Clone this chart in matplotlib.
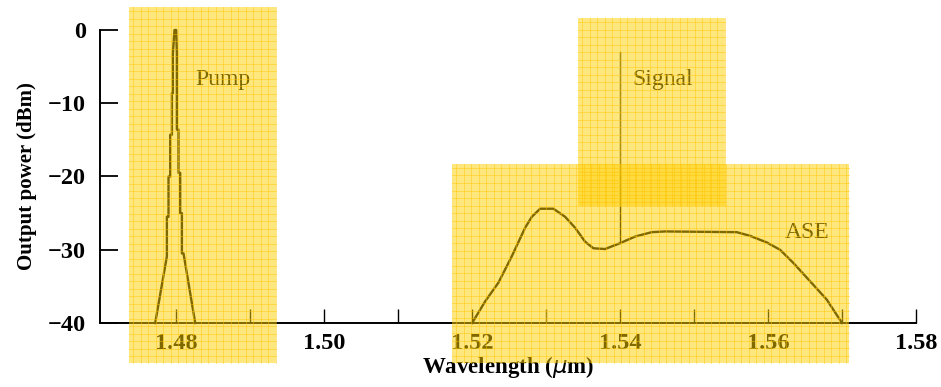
import numpy as np
import matplotlib.pyplot as plt
from matplotlib.patches import Rectangle
from matplotlib.lines import Line2D

# pump peak outline, stepped (wavelength in um, power in dBm)
pump_x = [1.47716, 1.47874, 1.47874, 1.47896, 1.47896, 1.47919, 1.47919, 1.47942, 1.47942,
          1.47955, 1.47955, 1.47977, 1.48000, 1.48009, 1.48009, 1.48031, 1.48031, 1.48054,
          1.48054, 1.48077, 1.48077, 1.48099, 1.48257]
pump_y = [-40, -30.9, -25.5, -25.5, -20.0, -20.0, -14.3, -14.3, -8.6,
          -8.6, -3.2, 0, 0, -3.2, -13.6, -13.6, -19.5, -19.5,
          -25.0, -25.0, -30.5, -30.5, -40]

# ASE spectrum
ase_x = [1.5200, 1.52176, 1.52355, 1.52536, 1.52716, 1.52807, 1.52919, 1.53099, 1.53257,
         1.53392, 1.53527, 1.53639, 1.53797, 1.5400, 1.54203, 1.54428, 1.54608, 1.55577,
         1.55757, 1.55982, 1.56162, 1.56342, 1.56568, 1.56793, 1.5700]
ase_y = [-40, -37.05, -34.5, -30.9, -27.0, -25.5, -24.4, -24.4, -25.5,
         -27.0, -28.9, -29.8, -29.9, -29.1, -28.2, -27.6, -27.5, -27.6,
         -28.1, -29.0, -30.0, -31.8, -34.3, -36.8, -40]

# signal line
sig_x = [1.54, 1.54]
sig_y = [-29.1, -3.0]

xticks = [1.48, 1.49, 1.50, 1.51, 1.52, 1.53, 1.54, 1.55, 1.56, 1.57, 1.58]
xlabels = ['1.48', '', '1.50', '', '1.52', '', '1.54', '', '1.56', '', '1.58']
yticks = [0, -10, -20, -30, -40]

plt.rcParams['font.family'] = ['Liberation Serif', 'DejaVu Serif']

W, H = 941, 387
fig = plt.figure(figsize=(W / 100, H / 100), dpi=100)
ax = fig.add_axes([100 / W, 1 - 323 / H, 816 / W, 293 / H])

ax.plot(pump_x, pump_y, color='black', lw=1.7, clip_on=False)
ax.plot(ase_x, ase_y, color='black', lw=1.7, clip_on=False)
ax.plot(sig_x, sig_y, color='black', lw=1.0)

ax.text(1.4826, -6.8, 'Pump', fontsize=17, va='center', ha='left')
ax.text(1.5417, -6.8, 'Signal', fontsize=17, va='center', ha='left')
ax.text(1.5623, -27.7, 'ASE', fontsize=17, va='center', ha='left')

ax.set_xlim(1.4697, 1.58)
ax.set_ylim(-40, 0)
ax.set_xticks(xticks)
ax.set_xticklabels(xlabels, fontsize=17.5, fontweight='bold')
ax.set_yticks(yticks)
ax.set_yticklabels([f'\u2212{abs(v)}' if v else '0' for v in yticks], fontsize=17.5, fontweight='bold')
ax.tick_params(axis='x', direction='in', length=10, width=1.0, pad=7)
ax.tick_params(axis='y', direction='in', length=13, width=1.3, pad=10)
for s in ['top', 'right']:
    ax.spines[s].set_visible(False)
for s in ['left', 'bottom']:
    ax.spines[s].set_linewidth(1.4)
ax.set_xlabel('Wavelength ($\\mu$m)', fontsize=16.5, fontweight='bold', labelpad=0)
ax.set_ylabel('Output power (dBm)', fontsize=15, fontweight='bold', labelpad=8)

# yellow highlighter boxes (pixel boxes: x0, y0, x1, y1)
boxes = [(129, 7, 276, 363), (452, 164, 849, 363), (578, 18, 725, 206)]
for x0, y0, x1, y1 in boxes:
    fig.patches.append(Rectangle((x0 / W, 1 - y1 / H), (x1 - x0) / W, (y1 - y0) / H,
                                 transform=fig.transFigure, facecolor='#FFD000',
                                 alpha=0.5, edgecolor='none', zorder=10))
    for gx in np.arange(x0 + 4, x1, 7.5):
        fig.lines.append(Line2D([gx / W, gx / W], [1 - y1 / H, 1 - y0 / H], transform=fig.transFigure,
                                color='#FFC400', alpha=0.45, lw=0.7, zorder=11))
    for gy in np.arange(y0 + 4, y1, 7.5):
        fig.lines.append(Line2D([x0 / W, x1 / W], [1 - gy / H, 1 - gy / H], transform=fig.transFigure,
                                color='#FFC400', alpha=0.45, lw=0.7, zorder=11))

fig.savefig('out.png', dpi=100)
